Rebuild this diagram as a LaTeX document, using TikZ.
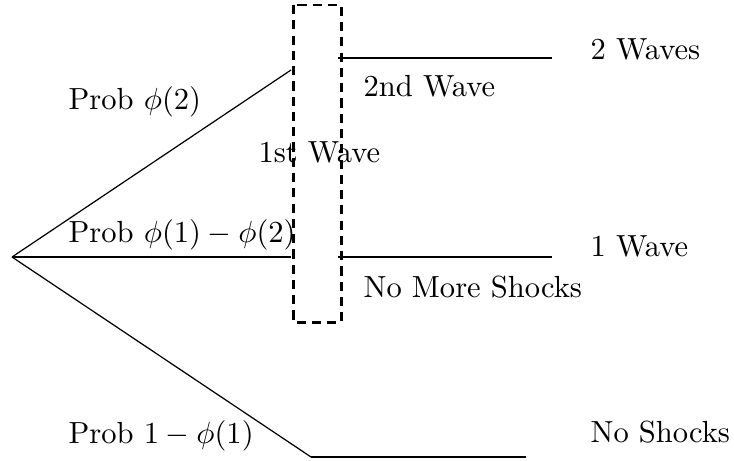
\documentclass[tikz,border=0pt]{standalone}
\usepackage{tikz}
\usetikzlibrary{positioning}

\begin{document}
\begin{tikzpicture}[x=0.0115cm, y=-0.0115cm,
   branch/.style={line width=0.4pt},
   outcome/.style={line width=0.8pt},
   wavebox/.style={draw, line width=0.8pt, dash pattern=on 3pt off 2pt},
   lbl/.style={anchor=base west, inner sep=0pt}]
\useasboundingbox (0,0) rectangle (734,461);
% tree points
\coordinate (root) at (12,257);
\coordinate (upA) at (291,70);
\coordinate (midA) at (291,257);
\coordinate (lowA) at (311,457);
\coordinate (upB) at (338,58);
\coordinate (upC) at (552,58);
\coordinate (midB) at (338,257);
\coordinate (midC) at (552,257);
\coordinate (lowC) at (526,457);
\draw[branch] (root) -- (upA);
\draw[outcome] (root) -- (midA);
\draw[branch] (root) -- (lowA);
\draw[outcome] (lowA) -- (lowC);
\draw[outcome] (upB) -- (upC);
\draw[outcome] (midB) -- (midC);
% first wave box
\draw[wavebox] (293.5,5) rectangle (341.5,322.5);
% labels
\node[lbl] (pTwo) at (68,110) {Prob $\phi(2)$};
\node[lbl] (pOne) at (68,243) {Prob $\phi(1)-\phi(2)$};
\node[lbl] (pNone) at (68,443) {Prob $1-\phi(1)$};
\node[lbl] (first) at (258,163) {1st Wave};
\node[lbl] (second) at (363,97) {2nd Wave};
\node[lbl] (noMore) at (363,297) {No More Shocks};
\node[lbl] (twoW) at (590,60) {2 Waves};
\node[lbl] (oneW) at (590,256) {1 Wave};
\node[lbl] (noS) at (590,442) {No Shocks};
\end{tikzpicture}
\end{document}
